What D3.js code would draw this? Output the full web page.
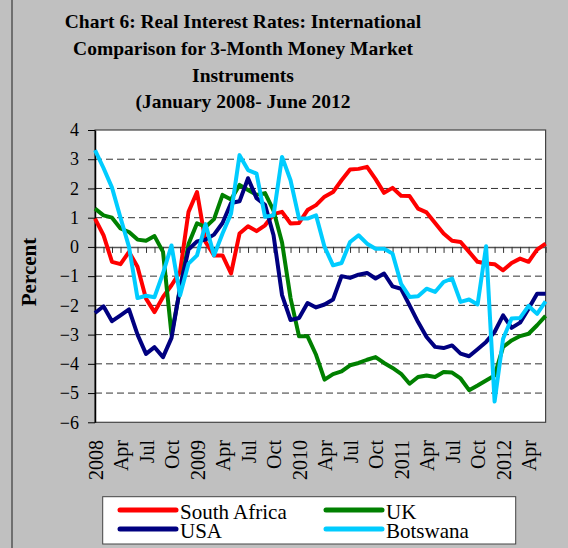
<!DOCTYPE html>
<html>
<head>
  <meta charset="utf-8">
  <script src="https://d3js.org/d3.v7.min.js"></script>
  <style type="text/css">
  body { margin: 0; background: #c0c0c0; }
  svg { display: block; }
  text { font-family: "Liberation Serif", "Times New Roman", serif; fill: #000; }
  .yaxis text { font-size: 18px; }
  .xlabels text { font-size: 20px; }
  .title { font-size: 19.5px; font-weight: bold; }
  .legend text { font-size: 21px; }
  </style>
</head>
<body>
<script type="text/javascript">
  // month tick labels (every 3rd month), Jan 2008 - Jun 2012
  var monthLabels = ["2008", "Apr", "Jul", "Oct", "2009", "Apr", "Jul", "Oct",
    "2010", "Apr", "Jul", "Oct", "2011", "Apr", "Jul", "Oct", "2012", "Apr"];

  var yTicks = [-6, -5, -4, -3, -2, -1, 0, 1, 2, 3, 4];

  var seriesNames = ["South Africa", "UK", "USA", "Botswana"];
  var seriesColors = ["#ff0000", "#008000", "#000080", "#00ccff"];

  var southAfrica = [0.97, 0.4, -0.51, -0.59, -0.17, -0.68, -1.77, -2.23, -1.71, -1.31,
    -0.86, 1.2, 1.88, 0.17, -0.29, -0.29, -0.91, 0.46, 0.71, 0.54,
    0.74, 1.12, 1.2, 0.8, 0.82, 1.26, 1.43, 1.72, 1.88, 2.28,
    2.65, 2.67, 2.74, 2.32, 1.85, 2.02, 1.75, 1.74, 1.31, 1.18,
    0.82, 0.46, 0.21, 0.17, -0.17, -0.51, -0.57, -0.59, -0.8, -0.55,
    -0.4, -0.51, -0.09, 0.11];

  var uk = [1.31, 1.08, 1.0, 0.63, 0.51, 0.25, 0.21, 0.37, -0.17, -3.0,
    -1.45, 0.1, 0.81, 0.68, 0.95, 1.78, 1.62, 2.12, 1.95, 1.78,
    1.84, 1.24, 0.15, -1.75, -3.06, -3.06, -3.69, -4.54, -4.35, -4.26,
    -4.05, -3.97, -3.86, -3.77, -3.97, -4.14, -4.34, -4.68, -4.45, -4.4,
    -4.45, -4.28, -4.3, -4.5, -4.9, -4.74, -4.57, -4.4, -3.42, -3.2,
    -3.05, -2.97, -2.68, -2.36];

  var usa = [-2.26, -2.03, -2.54, -2.34, -2.14, -3.0, -3.66, -3.43, -3.77, -3.11,
    -1.4, -0.09, 0.19, 0.25, 0.42, 0.82, 1.5, 1.56, 2.35, 1.67,
    1.44, 0.4, -1.65, -2.5, -2.43, -1.92, -2.07, -1.97, -1.8, -1.0,
    -1.06, -0.95, -0.89, -1.08, -0.91, -1.35, -1.43, -2.0, -2.57, -3.08,
    -3.42, -3.46, -3.37, -3.65, -3.74, -3.5, -3.25, -2.91, -2.34, -2.77,
    -2.59, -2.11, -1.6, -1.6];

  var botswana = [3.31, 2.7, 2.03, 1.0, 0.0, -1.75, -1.67, -1.72, -0.9, 0.05,
    -1.66, -0.57, -0.29, 0.78, -0.29, 0.46, 1.14, 3.14, 2.63, 2.51,
    1.03, 1.08, 3.08, 2.28, 0.97, 0.97, 1.08, 0.0, -0.63, -0.55,
    0.17, 0.4, 0.11, -0.06, -0.06, -0.23, -1.26, -1.71, -1.69, -1.43,
    -1.54, -1.2, -1.08, -1.88, -1.8, -1.97, 0.02, -5.29, -3.14, -2.45,
    -2.43, -2.02, -2.29, -1.86];

  var titleLines = ["Chart 6: Real Interest Rates: International",
    "Comparison for 3-Month Money Market",
    "Instruments",
    "(January 2008- June 2012"];

  var allSeries = [southAfrica, uk, usa, botswana];

  var W = 568, H = 548;
  var margin = {top: 130, left: 95};
  var width = 450.6, height = 292.3;

  var svg = d3.select("body").append("svg")
    .attr("width", W)
    .attr("height", H);

  // outer frame line on the left
  svg.append("line")
    .attr("x1", 12).attr("x2", 12).attr("y1", 0).attr("y2", H)
    .attr("stroke", "#555").attr("stroke-width", 1.5);

  // title
  svg.selectAll(".title")
    .data(titleLines)
    .enter().append("text")
    .attr("class", "title")
    .attr("x", 243)
    .attr("y", function(d, i) { return 28 + i * 26.8; })
    .attr("text-anchor", "middle")
    .text(function(d) { return d; });

  var g = svg.append("g")
    .attr("transform", "translate(" + margin.left + "," + margin.top + ")");

  var x = d3.scaleLinear().domain([0, southAfrica.length - 1]).range([0, width]);
  var y = d3.scaleLinear().domain([-6, 4]).range([height, 0]);

  // plot background
  g.append("rect")
    .attr("width", width).attr("height", height)
    .attr("fill", "#fff")
    .attr("stroke", "#444").attr("stroke-width", 1.2);

  // dashed gridlines
  g.selectAll(".grid")
    .data(yTicks.filter(function(d) { return d !== 0 && d !== -6 && d !== 4; }))
    .enter().append("line")
    .attr("class", "grid")
    .attr("x1", 0).attr("x2", width)
    .attr("y1", function(d) { return y(d); })
    .attr("y2", function(d) { return y(d); })
    .attr("stroke", "#333")
    .attr("stroke-width", 1)
    .attr("stroke-dasharray", "7,4");

  // zero axis with monthly ticks
  var zeroAxis = d3.axisBottom(x)
    .tickValues(d3.range(southAfrica.length))
    .tickSize(6)
    .tickSizeOuter(0)
    .tickFormat("");
  g.append("g")
    .attr("class", "zaxis")
    .attr("transform", "translate(0," + y(0) + ")")
    .call(zeroAxis)
    .call(function(s) {
      s.select(".domain").attr("stroke", "#555").attr("stroke-width", 1.5);
      s.selectAll(".tick line").attr("stroke", "#333");
    });

  // y axis
  var yAxis = d3.axisLeft(y)
    .tickValues(yTicks)
    .tickSize(7)
    .tickSizeOuter(0)
    .tickPadding(9);
  g.append("g")
    .attr("class", "yaxis")
    .call(yAxis)
    .call(function(s) {
      s.select(".domain").attr("stroke", "#000").attr("stroke-width", 1.5);
      s.selectAll("text").attr("font-family", null).attr("font-size", null);
    });

  // month labels along the bottom
  var xLabelAxis = d3.axisBottom(x)
    .tickValues(d3.range(0, southAfrica.length, 3))
    .tickSize(0)
    .tickFormat(function(d) { return monthLabels[d / 3]; });
  g.append("g")
    .attr("class", "xlabels")
    .attr("transform", "translate(0," + height + ")")
    .call(xLabelAxis)
    .call(function(s) {
      s.select(".domain").remove();
      s.selectAll("text")
        .attr("font-family", null).attr("font-size", null)
        .attr("transform", "rotate(-90)")
        .attr("x", -17.7)
        .attr("y", 0)
        .attr("dy", "0.35em")
        .style("text-anchor", "end");
    });

  // y axis title
  svg.append("text")
    .attr("transform", "translate(36,272) rotate(-90)")
    .attr("text-anchor", "middle")
    .attr("font-weight", "bold")
    .style("font-size", "21px")
    .text("Percent");

  // series lines
  var line = d3.line()
    .x(function(d, i) { return x(i); })
    .y(function(d) { return y(d); });

  g.selectAll(".series")
    .data(allSeries)
    .enter().append("path")
    .attr("class", "series")
    .attr("d", line)
    .attr("fill", "none")
    .attr("stroke", function(d, i) { return seriesColors[i]; })
    .attr("stroke-width", 4)
    .attr("stroke-linejoin", "round");

  // legend
  var legend = svg.append("g").attr("class", "legend");
  legend.append("rect")
    .attr("x", 102.7).attr("y", 496.7)
    .attr("width", 413).attr("height", 47.3)
    .attr("fill", "#fff")
    .attr("stroke", "#444").attr("stroke-width", 1);

  var items = legend.selectAll(".item")
    .data(seriesNames)
    .enter().append("g")
    .attr("class", "item")
    .attr("transform", function(d, i) {
      return "translate(" + (i % 2 === 0 ? 120 : 326) + "," + (i < 2 ? 510 : 529) + ")";
    });

  items.append("line")
    .attr("x1", 0).attr("x2", 56)
    .attr("stroke", function(d, i) { return seriesColors[i]; })
    .attr("stroke-width", 5)
    .attr("stroke-linecap", "round");

  items.append("text")
    .attr("x", 60)
    .attr("y", 8.5)
    .text(function(d) { return d; });
</script>
</body>
</html>
